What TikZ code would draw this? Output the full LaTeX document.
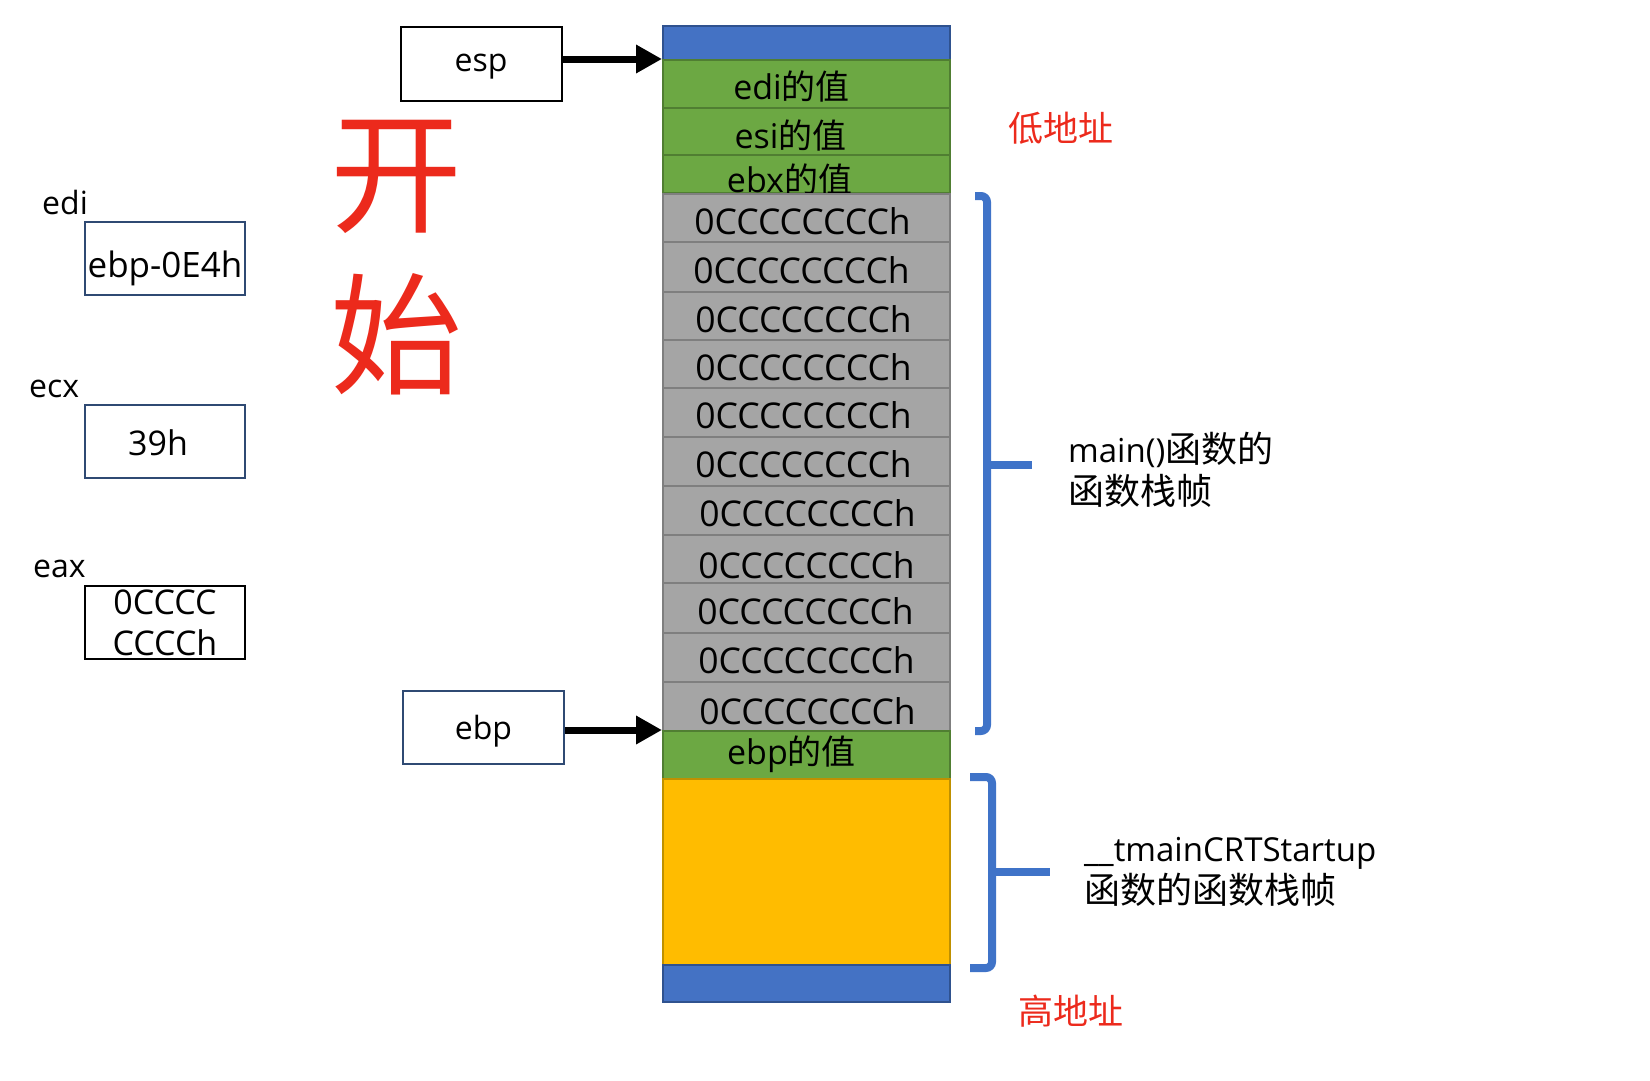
\documentclass[tikz,border=0pt]{standalone}
\usepackage{fontspec}
\setmainfont{Open Sans}
\newfontfamily\cjk{Noto Sans CJK SC}
\newcommand\cjkn{\cjk\fontsize{36}{42}\selectfont}
\usetikzlibrary{arrows.meta}
\definecolor{stackblue}{HTML}{4472C4}
\definecolor{stackblueb}{HTML}{2F528F}
\definecolor{stackgreen}{HTML}{6CA843}
\definecolor{stackgreenb}{HTML}{507E32}
\definecolor{stackgray}{HTML}{A5A5A5}
\definecolor{stackgrayb}{HTML}{7F7F7F}
\definecolor{stackyellow}{HTML}{FFBC00}
\definecolor{stackyellowb}{HTML}{BF9000}
\definecolor{bracecol}{HTML}{3F73C8}
\definecolor{redtxt}{HTML}{EC2A1C}
\definecolor{boxb}{HTML}{2F4A73}
\begin{document}
\begin{tikzpicture}[x=1pt,y=-1pt,
  rowbox/.style={draw, line width=2pt, minimum width=287pt, inner sep=0pt, font=\fontsize{34}{40}\selectfont},
  bluerow/.style={rowbox, fill=stackblue, draw=stackblueb},
  greenrow/.style={rowbox, fill=stackgreen, draw=stackgreenb, text height=28pt, text depth=0pt},
  grayrow/.style={rowbox, fill=stackgray, draw=stackgrayb, text height=32pt, text depth=0pt, font=\fontsize{35.5}{40}\selectfont},
  yellowrow/.style={rowbox, fill=stackyellow, draw=stackyellowb},
  regbox/.style={draw=boxb, line width=2pt, minimum width=160pt, minimum height=73pt, inner sep=0pt, font=\fontsize{34}{40}\selectfont},
  ptrbox/.style={draw=boxb, line width=2pt, minimum width=161pt, minimum height=73pt, inner sep=0pt, font=\fontsize{32}{38}\selectfont},
  reglabel/.style={anchor=west, inner sep=0pt, font=\fontsize{32}{38}\selectfont},
  ptr/.style={line width=7pt, -{Triangle[length=26pt,width=27pt]}},
  brace/.style={draw=bracecol, line width=8pt, rounded corners=6pt},
  note/.style={anchor=west, align=left, inner sep=0pt, font=\fontsize{33}{42}\selectfont},
  addr/.style={inner sep=0pt, text=redtxt, font=\cjk\fontsize{35}{40}\selectfont},
  big/.style={inner sep=0pt, text=redtxt, font=\cjk\fontsize{132}{140}\selectfont}
]
\useasboundingbox (0,0) rectangle (1650,1080);

% stack
\node[bluerow, minimum height=34pt] (top) at (806.5,43) {};
\node[greenrow, minimum height=48pt, text height=30pt] (edi) at (806.5,84) {\hspace*{-30pt}edi{\cjk 的值}};
\node[greenrow, minimum height=47pt, text height=34pt] (esi) at (806.5,131.5) {\hspace*{-32pt}esi{\cjk 的值}};
\node[greenrow, minimum height=38pt, text height=37pt] (ebx) at (806.5,174) {\hspace*{-34pt}ebx{\cjk 的值}};
\node[grayrow, minimum height=48pt] (g1) at (806.5,218) {\hspace*{-8pt}0CCCCCCCCh};
\node[grayrow, minimum height=50pt] (g2) at (806.5,267) {\hspace*{-10pt}0CCCCCCCCh};
\node[grayrow, minimum height=48pt] (g3) at (806.5,316) {\hspace*{-6pt}0CCCCCCCCh};
\node[grayrow, minimum height=48pt] (g4) at (806.5,364) {\hspace*{-6pt}0CCCCCCCCh};
\node[grayrow, minimum height=49pt] (g5) at (806.5,412.5) {\hspace*{-6pt}0CCCCCCCCh};
\node[grayrow, minimum height=49pt] (g6) at (806.5,461.5) {\hspace*{-6pt}0CCCCCCCCh};
\node[grayrow, minimum height=49pt] (g7) at (806.5,510.5) {\hspace*{2pt}0CCCCCCCCh};
\node[grayrow, minimum height=48pt, text height=38pt] (g8) at (806.5,559) {0CCCCCCCCh};
\node[grayrow, minimum height=50pt] (g9) at (806.5,608) {\hspace*{-2pt}0CCCCCCCCh};
\node[grayrow, minimum height=49pt] (g10) at (806.5,657.5) {0CCCCCCCCh};
\node[grayrow, minimum height=49pt, text height=36pt] (g11) at (806.5,706.5) {\hspace*{2pt}0CCCCCCCCh};
\node[greenrow, minimum height=48pt, text height=18pt] (ebprow) at (806.5,755) {\hspace*{-30pt}ebp{\cjk 的值}};
\node[yellowrow, minimum height=186pt] (caller) at (806.5,872) {};
\node[bluerow, minimum height=37pt] (bottom) at (806.5,983.5) {};

% pointer boxes and arrows
\node[ptrbox, draw=black, minimum height=74pt, text height=22pt, text depth=7.4pt] (esp) at (481,64) {esp};
\node[ptrbox, text height=32pt, text depth=7.6pt] (ebp) at (483.5,727.5) {ebp};
\draw[ptr] (esp.east |- edi.north west) -- (edi.north west);
\draw[ptr] (ebp.east |- ebprow.north west) -- (ebprow.north west);

% registers
\node[reglabel] (ediL) at (42,202) {edi};
\node[regbox, text height=45pt, text depth=8pt, font=\fontsize{35}{40}\selectfont] (ediV) at (165,258.5) {ebp-0E4h};
\node[reglabel] (ecxL) at (29,389) {ecx};
\node[regbox, text height=27pt, text depth=0pt] (ecxV) at (165,441.5) {\hspace*{-14pt}39h};
\node[reglabel] (eaxL) at (33,569) {eax};
\node[regbox, draw=black, align=center, font=\fontsize{34}{41}\selectfont] (eaxV) at (165,622.5) {0CCCC\\CCCCh};

% big title
\node[big] (kai) at (396,177) {开};
\node[big] (shi) at (396,334) {始};

% braces
\draw[brace] (975,196) -- (987,196) -- (987,731) -- (975,731);
\draw[brace, rounded corners=0pt] (987,465) -- (1032,465);
\draw[brace] (970,777) -- (992,777) -- (992,968) -- (970,968);
\draw[brace, rounded corners=0pt] (992,872) -- (1050,872);

% notes
\node[note] (mainN) at (1068,470) {main(){\cjkn 函数的}\\{\cjkn 函数栈帧}};
\node[note] (crtN) at (1084,872) {\_\_tmainCRTStartup\\{\cjkn 函数的函数栈帧}};
\node[addr] (low) at (1061,128) {低地址};
\node[addr] (high) at (1071,1011) {高地址};
\end{tikzpicture}
\end{document}
